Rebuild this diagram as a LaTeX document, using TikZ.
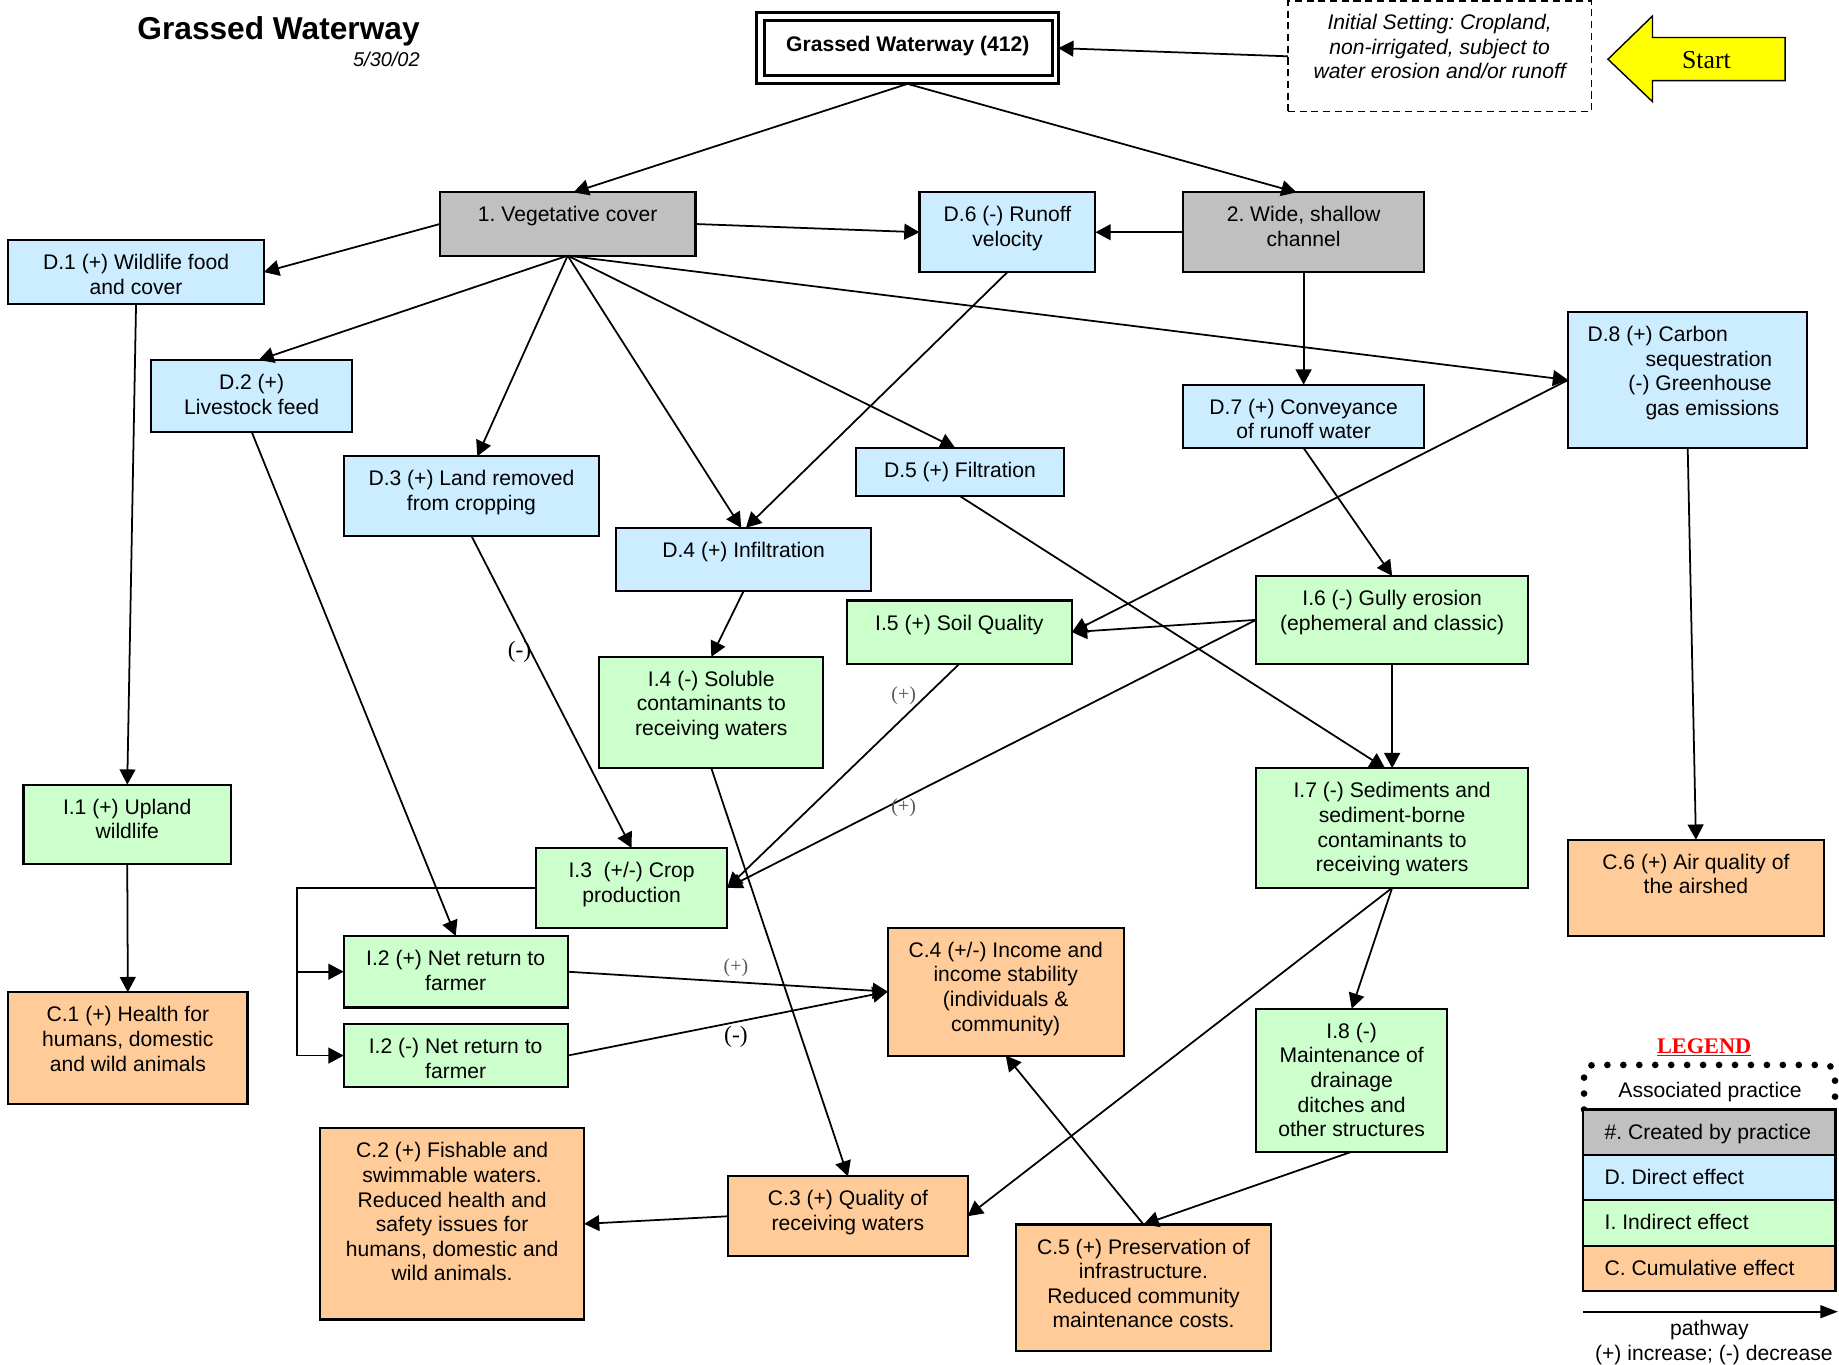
\documentclass[tikz,border=0pt]{standalone}
\usepackage{fontspec}
\setmainfont{Liberation Sans}
\newfontfamily\seriffont{Liberation Serif}
\usetikzlibrary{arrows.meta}
\frenchspacing
\definecolor{cgray}{HTML}{C0C0C0}
\definecolor{cblue}{HTML}{CCECFF}
\definecolor{cgreen}{HTML}{CCFFCC}
\definecolor{corange}{HTML}{FFCC99}
\definecolor{cyellow}{HTML}{FFFF00}
\newcommand\fl{\rule{0pt}{14pt}}
\newcommand\bx[7]{%
 \node[boxbase,#6,minimum width={#4-#2},minimum height={#5-#3}] (#1) at ({(#2+#4)/2},{(#3+#5)/2}) {};
 \node[txt,anchor=north] (#1t) at ({(#2+#4)/2},{#3+11}) {\fl#7};}
\tikzset{
 boxbase/.style={draw,line width=1.8pt,inner sep=0pt,outer sep=0pt,rectangle},
 txt/.style={font=\fontsize{18}{21}\selectfont,align=center,inner sep=0pt},
 arr/.style={line width=1.5pt,-{Triangle[length=13pt,width=13.5pt]}},
 lblp/.style={font=\seriffont\fontsize{17}{20}\selectfont,text=black!65,inner sep=0pt},
 lblm/.style={font=\seriffont\fontsize{20}{24}\selectfont,inner sep=0pt},
 dotline/.style={line width=5.7pt,dash pattern=on 0pt off 13.6pt,line cap=round,rounded corners=8pt}
}
\begin{document}
\begin{tikzpicture}[x=1pt,y=-1pt]
\fill[white] (0,0) rectangle (1568,1163);
\useasboundingbox (0,0) rectangle (1568,1163);

% title
\node[font=\bfseries\fontsize{27}{32}\selectfont,anchor=base east,inner sep=0pt] (title) at (358,34) {Grassed Waterway};
\node[font=\itshape\fontsize{17}{20}\selectfont,anchor=base east,inner sep=0pt] (date) at (358,57) {5/30/02};

% main practice box
\node[draw,line width=2.6pt,minimum width=257,minimum height=61,inner sep=0pt,outer sep=0pt] (B0) at (773.75,41) {};
\node[draw,line width=2.4pt,minimum width=245.6,minimum height=46.7,inner sep=0pt,outer sep=0pt] (B0in) at (774.8,40.8) {};
\node[font=\bfseries\fontsize{18}{21}\selectfont,anchor=base,inner sep=0pt] (B0t) at (774,43.5) {Grassed Waterway (412)};

% initial setting
\node[draw,line width=1.4pt,dash pattern=on 6pt off 4pt,minimum width=259,minimum height=94,inner sep=0pt,outer sep=0pt] (init) at (1227.5,48) {};
\node[txt,font=\itshape\fontsize{18}{21}\selectfont,anchor=north] (initt) at (1227.5,11) {\fl Initial Setting: Cropland,\\non-irrigated, subject to\\water erosion and/or runoff};

% start arrow
\draw[fill=cyellow,line width=1.2pt,line join=miter] (1371,50.5) -- (1409,13.6) -- (1409,32) -- (1522,32) -- (1522,68.8) -- (1409,68.8) -- (1409,86.7) -- cycle;
\node[font=\seriffont\fontsize{22}{26}\selectfont,inner sep=0pt,anchor=base] (start) at (1455,58) {Start};

% boxes
\bx{V1}{375}{164}{593}{218}{fill=cgray}{1. Vegetative cover}
\bx{W2}{1009}{164}{1214}{232}{fill=cgray}{2. Wide, shallow\\channel}
\bx{D6}{784}{164}{934}{232}{fill=cblue}{D.6 (-) Runoff\\velocity}
\bx{D1}{7}{205}{225}{259}{fill=cblue}{D.1 (+) Wildlife food\\and cover}
\bx{D2}{129}{307}{300}{368}{fill=cblue}{D.2 (+)\\Livestock feed}
\bx{D3}{293}{389}{511}{457}{fill=cblue}{D.3 (+) Land removed\\from cropping}
\bx{D4}{525}{450}{743}{504}{fill=cblue}{D.4 (+) Infiltration}
\bx{D5}{730}{382}{907}{423}{fill=cblue}{D.5 (+) Filtration}
\bx{D7}{1009}{328}{1214}{382}{fill=cblue}{D.7 (+) Conveyance\\of runoff water}
\node[boxbase,fill=cblue,minimum width=204,minimum height=116] (D8) at (1439,324) {};
\node[txt,align=left,anchor=north west] (D8t) at (1353.4,277) {\fl D.8 (+) Carbon\\\hspace*{49.4pt}sequestration\\\hspace*{34.9pt}(-) Greenhouse\\\hspace*{49.4pt}gas emissions};
\bx{I5}{722}{512}{914}{566}{fill=cgreen}{I.5 (+) Soil Quality}
\bx{I6}{1071}{491}{1303}{566}{fill=cgreen}{I.6 (-) Gully erosion\\(ephemeral and classic)}
\bx{I4}{511}{560}{702}{655}{fill=cgreen}{I.4 (-) Soluble\\contaminants to\\receiving waters}
\bx{I7}{1071}{655}{1303}{757}{fill=cgreen}{I.7 (-) Sediments and\\sediment-borne\\contaminants to\\receiving waters}
\bx{C6}{1337}{716}{1555}{798}{fill=corange}{C.6 (+) Air quality of\\the airshed}
\bx{I1}{20}{669}{197}{737}{fill=cgreen}{I.1 (+) Upland\\wildlife}
\bx{I3}{457}{723}{620}{791}{fill=cgreen}{I.3\ \ (+/-) Crop\\production}
\bx{I2p}{293}{798}{484}{859}{fill=cgreen}{I.2 (+) Net return to\\farmer}
\bx{I2m}{293}{873}{484}{927}{fill=cgreen}{I.2 (-) Net return to\\farmer}
\bx{C4}{757}{791}{958}{900}{fill=corange}{C.4 (+/-) Income and\\income stability\\(individuals \&\\community)}
\bx{C1}{7}{846}{211}{941}{fill=corange}{C.1 (+) Health for\\humans, domestic\\and wild animals}
\bx{I8}{1071}{860}{1234}{982}{fill=cgreen}{I.8 (-)\\Maintenance of\\drainage\\ditches and\\other structures}
\bx{C2}{273}{962}{498}{1125}{fill=corange}{C.2 (+) Fishable and\\swimmable waters.\\Reduced health and\\safety issues for\\humans, domestic and\\wild animals.}
\bx{C3}{621}{1003}{825}{1071}{fill=corange}{C.3 (+) Quality of\\receiving waters}
\bx{C5}{866}{1044}{1084}{1152}{fill=corange}{C.5 (+) Preservation of\\infrastructure.\\Reduced community\\maintenance costs.}

% connectors
\draw[arr] (init.west) -- (B0.east);
\draw[arr] (B0.south) -- ([xshift=5pt]V1.north);
\draw[arr] (B0.south) -- ([xshift=-6pt]W2.north);
\draw[arr] (V1.west) -- (D1.east);
\draw[arr] (V1.east) -- (D6.west);
\draw[arr] (W2.west) -- (D6.east);
\draw[arr] (V1.south) -- ([xshift=6pt]D2.north);
\draw[arr] (V1.south) -- ([xshift=5pt]D3.north);
\draw[arr] (V1.south) -- ([xshift=-2pt]D4.north);
\draw[arr] (V1.south) -- ([xshift=-4pt]D5.north);
\draw[arr] (V1.south) -- (D8.west);
\draw[arr] (D6.south) -- ([xshift=2pt]D4.north);
\draw[arr] (W2.south) -- (D7.north);
\draw[arr] (D1.south) -- (I1.north);
\draw[arr] (D2.south) -- (I2p.north);
\draw[arr] (D3.south) -- (I3.north);
\draw[arr] (D4.south) -- (I4.north);
\draw[arr] (D5.south) -- ([xshift=-6pt]I7.north);
\draw[arr] (D7.south) -- (I6.north);
\draw[arr] (D8.west) -- (I5.east);
\draw[arr] (I6.west) -- (I5.east);
\draw[arr] (I6.west) -- (I3.east);
\draw[arr] (I5.south) -- (I3.east);
\draw[arr] (I6.south) -- (I7.north);
\draw[arr] (D8.south) -- (C6.north);
\draw[arr] (I1.south) -- (C1.north);
\coordinate (elb) at (253,757);
\draw[arr] (I3.west) -- (elb) |- (I2m.west);
\draw[arr] (elb |- I2p.west) -- (I2p.west);
\draw[arr] (I2p.east) -- (C4.west);
\draw[arr] (I2m.east) -- (C4.west);
\draw[arr] (I4.south) -- (C3.north);
\draw[arr] (I7.south) -- (I8.north);
\draw[arr] (I7.south) -- (C3.east);
\draw[arr] (I8.south) -- (C5.north);
\draw[arr] (C5.north) -- (C4.south);
\draw[arr] (C3.west) -- (C2.east);

% connector labels
\node[lblp] (l1) at (770.5,593.5) {(+)};
\node[lblp] (l2) at (770.5,689) {(+)};
\node[lblp] (l3) at (627.5,825) {(+)};
\node[lblm] (l4) at (443,556) {(-)};
\node[lblm] (l5) at (627.5,884) {(-)};

% legend
\node[font=\seriffont\bfseries\fontsize{19}{22}\selectfont,text=red,anchor=base,inner sep=0pt] (leg) at (1453,898) {\underline{LEGEND}};
\draw[dotline] (1350.6,946) -- (1350.6,908) -- (1564.6,908) -- (1564.6,946);
\node[font=\fontsize{18}{21}\selectfont,anchor=base,inner sep=0pt] (lga) at (1458,935.7) {Associated practice};
\node[boxbase,fill=cgray,minimum width=215,minimum height=39] (lg1) at (1457.5,965.5) {};
\node[boxbase,fill=cblue,minimum width=215,minimum height=38] (lg2) at (1457.5,1004) {};
\node[boxbase,fill=cgreen,minimum width=215,minimum height=39] (lg3) at (1457.5,1042.5) {};
\node[boxbase,fill=corange,minimum width=215,minimum height=39] (lg4) at (1457.5,1081.5) {};
\node[font=\fontsize{18}{21}\selectfont,anchor=base west,inner sep=0pt] (lg1t) at (1368,971.5) {\#. Created by practice};
\node[font=\fontsize{18}{21}\selectfont,anchor=base west,inner sep=0pt] (lg2t) at (1368,1010.2) {D. Direct effect};
\node[font=\fontsize{18}{21}\selectfont,anchor=base west,inner sep=0pt] (lg3t) at (1368,1048.5) {I. Indirect effect};
\node[font=\fontsize{18}{21}\selectfont,anchor=base west,inner sep=0pt] (lg4t) at (1368,1087.5) {C. Cumulative effect};
\coordinate (pa) at (1350,1118.4);
\coordinate (pb) at (1567,1118.4);
\draw[line width=1.5pt,-{Triangle[length=15pt,width=11pt]}] (pa) -- (pb);
\node[font=\fontsize{18}{21}\selectfont,anchor=base,inner sep=0pt] (lgp) at (1457.5,1138.3) {pathway};
\node[font=\fontsize{18}{21}\selectfont,anchor=base,inner sep=0pt] (lgq) at (1461.3,1159.6) {(+) increase; (-) decrease};
\end{tikzpicture}
\end{document}
